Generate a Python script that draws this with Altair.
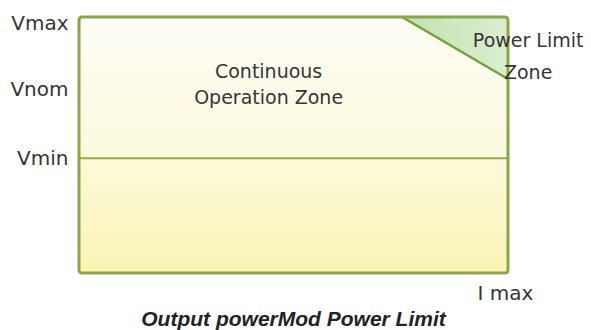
import altair as alt
import pandas as pd

# ---- values ----
V_MIN, V_NOM, V_MAX = 10.0, 16.0, 22.3          # voltage levels (arbitrary units)
I_ZERO, I_MAX = 0.0, 1.0                          # current range
level_names = ["Vmin", "Vnom", "Vmax"]
level_values = [V_MIN, V_NOM, V_MAX]
pl_current = [0.753, 1.0]                         # power-limit boundary (current)
pl_voltage = [V_MAX, 16.9]                        # power-limit boundary (voltage)
zone_lines = ["Continuous", "Operation Zone", "Power Limit", "Zone"]
zone_line_i = [0.442, 0.442, 1.047, 1.047]
zone_line_v = [17.0, 14.75, 19.7, 16.9]
title_text = "Output powerMod Power Limit"

LABEL_FONT = "DejaVu Sans"
GREEN = "#8aa64a"
TEXT = "#353535"

xs = alt.Scale(domain=[I_ZERO, I_MAX], nice=False, zero=False)
ys = alt.Scale(domain=[0, V_MAX], nice=False, zero=False)

label_expr = ("datum.value == %s ? '%s' : datum.value == %s ? '%s' : '%s'"
              % (V_MIN, level_names[0], V_NOM, level_names[1], level_names[2]))

x_axis = alt.Axis(values=[I_MAX], labelExpr="'I max'", title=None,
                  domain=False, ticks=False, tickSize=0, grid=False,
                  labelFont=LABEL_FONT, labelFontSize=20, labelColor=TEXT,
                  labelPadding=10, labelAlign="center", labelOffset=-3)
y_axis = alt.Axis(values=level_values, labelExpr=label_expr, title=None,
                  domain=False, ticks=False, tickSize=0, grid=False,
                  labelFont=LABEL_FONT, labelFontSize=20, labelColor=TEXT,
                  labelPadding=11, labelAlign="right", labelBaseline="middle",
                  labelOffset={"condition": {"test": "datum.value == %s" % V_MAX,
                                             "value": 6}, "value": 0})

box_df = pd.DataFrame({"i0": [I_ZERO], "i1": [I_MAX], "v0": [0.0], "v1": [V_MAX]})
pl_df = pd.DataFrame({"i0": pl_current, "v0": pl_voltage, "v1": [V_MAX, V_MAX]})
vmin_df = pd.DataFrame({"i0": [I_ZERO], "i1": [I_MAX], "v0": [V_MIN]})
zone_df = pd.DataFrame({"t": zone_lines, "i0": zone_line_i, "v0": zone_line_v})

X = alt.X("i0:Q", scale=xs, axis=x_axis, title=None)
Y = alt.Y("v0:Q", scale=ys, axis=y_axis, title=None)

fill_grad = alt.LinearGradient(
    gradient="linear", x1=0, y1=0, x2=0, y2=1,
    stops=[alt.GradientStop(color="#fefef7", offset=0),
           alt.GradientStop(color="#fcfadf", offset=0.5),
           alt.GradientStop(color="#faf4b4", offset=1)])

green_grad = alt.LinearGradient(
    gradient="linear", x1=0, y1=0, x2=1, y2=0,
    stops=[alt.GradientStop(color="#c2e1b0", offset=0),
           alt.GradientStop(color="#dbeecf", offset=1)])

box = alt.Chart(box_df).mark_rect(fill=fill_grad, cornerRadius=3).encode(
    x=X, x2="i1:Q", y=Y, y2="v1:Q")

tri = alt.Chart(pl_df).mark_area(fill=green_grad).encode(
    x=X, y=Y, y2="v1:Q")

diag = alt.Chart(pl_df).mark_line(color="#76a03c", strokeWidth=2.5).encode(
    x=X, y=Y)

vmin_line = alt.Chart(vmin_df).mark_rule(color="#93ad4e", strokeWidth=2).encode(
    x=X, x2="i1:Q", y=Y)

border = alt.Chart(box_df).mark_rect(fillOpacity=0, stroke=GREEN, strokeWidth=3,
                                     cornerRadius=3).encode(
    x=X, x2="i1:Q", y=Y, y2="v1:Q")

zones = alt.Chart(zone_df).mark_text(font=LABEL_FONT, fontSize=19, color=TEXT,
                                     align="center", baseline="alphabetic").encode(
    x=X, y=Y, text="t:N")

chart = alt.layer(box, tri, diag, vmin_line, border, zones).properties(
    width=429, height=256,
    padding={"left": 71, "top": 9, "right": 75, "bottom": 57},
    autosize=alt.AutoSizeParams(type="none"),
    title=alt.TitleParams(title_text, orient="bottom", anchor="middle",
                          font="Liberation Sans", fontSize=21, fontStyle="italic",
                          fontWeight="bold", color="#222222", offset=6),
).configure_view(stroke=None).configure(background="white")

chart.save("out.html", embed_options={"renderer": "svg", "actions": False})
